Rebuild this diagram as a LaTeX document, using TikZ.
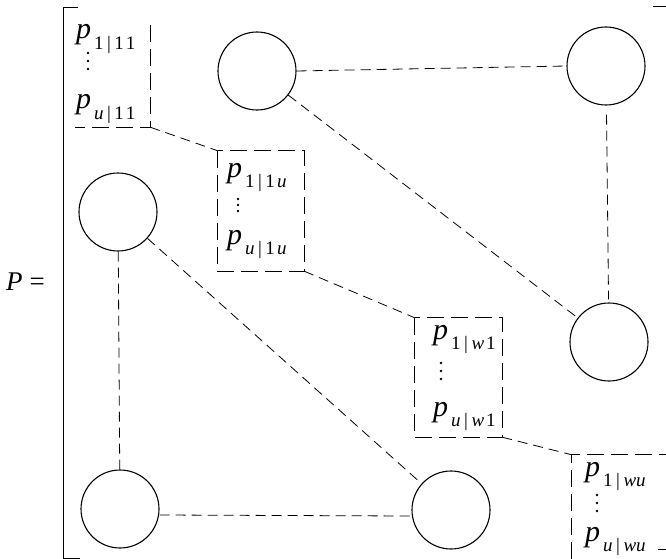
\documentclass[tikz,border=0pt]{standalone}
\usepackage{fontspec}
\setmainfont{Liberation Serif}
\newfontfamily\tmsfont{Liberation Serif}
\newcommand\psubs[1]{{\itshape p}\kern3pt\raisebox{-0.36em}{\fontsize{19}{19}\selectfont #1}}
\newcommand\vbarsep{\kern3.5pt|\kern3.5pt}
\newcommand\gapk{\kern2pt}
\tikzset{
  circ/.style={draw, circle, minimum size=78pt, inner sep=0pt, line width=1.1pt},
  lbl/.style={anchor=base west, inner sep=0pt, font=\tmsfont\fontsize{30}{32}\selectfont},
  conn/.style={line width=0.8pt, dash pattern=on 10pt off 6pt},
  boxedge/.style={line width=0.9pt, dash pattern=on 17pt off 7pt},
  boxarea/.style={rectangle, inner sep=0pt},
  brk/.style={line width=1pt},
  dotm/.style={circle, fill, inner sep=0pt, minimum size=2.6pt}
}
\begin{document}
\begin{tikzpicture}[x=1pt,y=-1pt]
\useasboundingbox (0,0) rectangle (666,559);
% label P =
\node[anchor=base west, inner sep=0pt, font=\tmsfont\fontsize{27}{30}\selectfont] (Plabel) at (6,290) {{\itshape P}\kern7pt=};
% bracket
\draw[brk] (78,8) -- (63,8) -- (63,558) -- (80,558);
\draw[brk] (653,7) -- (666,7);
\draw[brk] (658,549) -- (666,549);
% circles
\node[circ] (A) at (257,71) {};
\node[circ] (B) at (606,66) {};
\node[circ] (C) at (118,212) {};
\node[circ] (D) at (609,342) {};
\node[circ] (E) at (120,509) {};
\node[circ] (F) at (451,510) {};
% box areas
\node[boxarea, minimum width=75pt, minimum height=102pt] (b1) at (112.5,76) {};
\node[boxarea, minimum width=86pt, minimum height=120pt] (b2) at (261,211) {};
\node[boxarea, minimum width=87pt, minimum height=119pt] (b3) at (458.5,377.5) {};
\node[boxarea, minimum width=94pt, minimum height=104pt] (b4) at (619,507) {};
% box edges
\draw[boxedge] (b1.north east) -- (b1.south east) -- (b1.south west);
\draw[boxedge] (b2.north west) rectangle (b2.south east);
\draw[boxedge] (b3.north west) rectangle (b3.south east);
\draw[boxedge] (b4.south west) -- (b4.north west) -- (b4.north east);
% box texts
\node[lbl] (t11) at (76,39) {\psubs{1\vbarsep1\gapk1}};
\node[dotm] (d11a) at (88,53) {};
\node[dotm] (d11b) at (88,61) {};
\node[dotm] (d11c) at (88,69) {};
\node[lbl] (t12) at (76,109) {\psubs{{\itshape u}\vbarsep1\gapk1}};
\node[lbl] (t21) at (227,177) {\psubs{1\vbarsep1\gapk{\itshape u}}};
\node[dotm] (d21a) at (238,199) {};
\node[dotm] (d21b) at (238,205) {};
\node[dotm] (d21c) at (238,211) {};
\node[lbl] (t22) at (227,244) {\psubs{{\itshape u}\vbarsep1\gapk{\itshape u}}};
\node[lbl] (t31) at (433,339) {\psubs{1\vbarsep{\itshape w}\gapk1}};
\node[dotm] (d31a) at (441,363) {};
\node[dotm] (d31b) at (441,371) {};
\node[dotm] (d31c) at (441,379) {};
\node[lbl] (t32) at (433,416) {\psubs{{\itshape u}\vbarsep{\itshape w}\gapk1}};
\node[lbl] (t41) at (585,476) {\psubs{1\vbarsep{\itshape wu}}};
\node[dotm] (d41a) at (597,495) {};
\node[dotm] (d41b) at (597,503) {};
\node[dotm] (d41c) at (597,511) {};
\node[lbl] (t42) at (585,541) {\psubs{{\itshape u}\vbarsep{\itshape wu}}};
% connectors between circles
\draw[conn] (A.east) -- (B.west);
\draw[conn] (A) -- (D);
\draw[conn, shorten <=9pt, shorten >=3pt] (B) -- (D);
\draw[conn] (C) -- (E);
\draw[conn] (C) -- (F);
\draw[conn] ([yshift=-6pt]E.east) -- ([yshift=-6pt]F.west);
% connectors between boxes
\draw[conn] (b1.south east) -- (b2.north west);
\draw[conn] (b2.south east) -- (b3.north west);
\draw[conn] (b3.south east) -- (b4.north west);
\end{tikzpicture}
\end{document}
